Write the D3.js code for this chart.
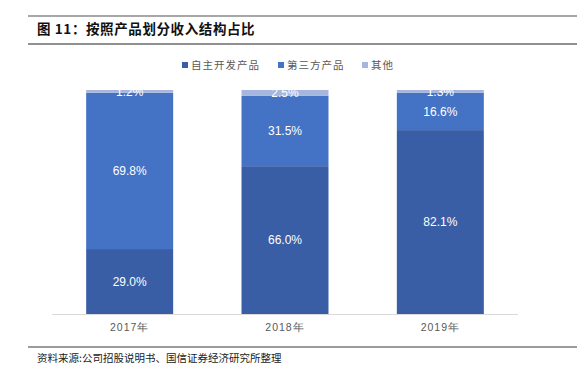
<!DOCTYPE html>
<html>
<head>
<meta charset="utf-8">
<script src="https://cdn.jsdelivr.net/npm/d3@7"></script>
<style>
  body { margin: 0; background: #fff; }
  svg { display: block; }
</style>
</head>
<body>
<div id="chart"></div>
<script>
// data
var years = ["2017年", "2018年", "2019年"];
var seriesNames = ["自主开发产品", "第三方产品", "其他"];
var selfDev = [29.0, 66.0, 82.1];
var thirdParty = [69.8, 31.5, 16.6];
var others = [1.2, 2.5, 1.3];
var colors = ["#3A5EA5", "#4472C4", "#A7B6DC"];

var W = 588, H = 374;
var svg = d3.select("#chart").append("svg")
  .attr("width", W).attr("height", H);

// header / footer rules
svg.append("line").attr("x1", 28).attr("x2", 577).attr("y1", 16).attr("y2", 16)
  .attr("stroke", "#8a8a8a").attr("stroke-width", 1.5);
svg.append("line").attr("x1", 28).attr("x2", 577).attr("y1", 44).attr("y2", 44)
  .attr("stroke", "#222").attr("stroke-width", 1);
svg.append("line").attr("x1", 28).attr("x2", 577).attr("y1", 347).attr("y2", 347)
  .attr("stroke", "#7a7a7a").attr("stroke-width", 1.5);

svg.append("text").attr("x", 37).attr("y", 34)
  .style("font-family", "'Noto Sans CJK SC', sans-serif")
  .style("font-size", "13.5px").style("font-weight", "bold")
  .style("letter-spacing", "0.6px").attr("fill", "#111")
  .text("图 11：按照产品划分收入结构占比");

svg.append("text").attr("x", 37).attr("y", 362)
  .style("font-family", "'Noto Sans CJK SC', sans-serif")
  .style("font-size", "10.5px").attr("fill", "#222")
  .text("资料来源:公司招股说明书、国信证券经济研究所整理");

// stacked data
var rows = years.map(function(y, i) {
  return { year: y, s0: selfDev[i], s1: thirdParty[i], s2: others[i] };
});
var stack = d3.stack().keys(["s0", "s1", "s2"]);
var layers = stack(rows);

var x = d3.scaleBand().domain(years).range([52, 518]).paddingInner(0.44).paddingOuter(0.22);
var y = d3.scaleLinear().domain([0, 100]).range([314, 90]);

var g = svg.append("g");
layers.forEach(function(layer, k) {
  g.selectAll(".bar" + k).data(layer).enter().append("rect")
    .attr("x", function(d) { return x(d.data.year); })
    .attr("y", function(d) { return y(d[1]); })
    .attr("width", x.bandwidth())
    .attr("height", function(d) { return y(d[0]) - y(d[1]); })
    .attr("fill", colors[k]);
});

// value labels
layers.forEach(function(layer, k) {
  g.selectAll(".lab" + k).data(layer).enter().append("text")
    .attr("x", function(d) { return x(d.data.year) + x.bandwidth() / 2; })
    .attr("y", function(d) { return (y(d[0]) + y(d[1])) / 2; })
    .attr("dy", "0.35em")
    .attr("text-anchor", "middle")
    .style("font-family", "'Liberation Sans', Arial, sans-serif")
    .style("font-size", "12px")
    .attr("fill", "#fff")
    .text(function(d) { return (d[1] - d[0]).toFixed(1) + "%"; });
});

// x axis
var xAxis = svg.append("g").attr("transform", "translate(0,314)")
  .call(d3.axisBottom(x).tickSize(0).tickPadding(10));
xAxis.select(".domain").attr("stroke", "#d9d9d9").attr("stroke-width", 1)
  .attr("d", "M52,0.5H518");
xAxis.selectAll("text")
  .style("font-family", "'Liberation Sans', Arial, sans-serif")
  .style("font-size", "10.5px").style("letter-spacing", "1px")
  .attr("fill", "#595959");

// legend
var legX = [182, 278, 362];
var leg = svg.append("g");
seriesNames.forEach(function(n, i) {
  leg.append("rect").attr("x", legX[i]).attr("y", 62).attr("width", 6).attr("height", 6)
    .attr("fill", colors[i]);
  leg.append("text").attr("x", legX[i] + 9).attr("y", 65).attr("dy", "0.35em")
    .style("font-family", "'Noto Sans CJK SC', sans-serif")
    .style("font-size", "10.5px").style("letter-spacing", "1px")
    .attr("fill", "#595959").text(n);
});
</script>
</body>
</html>
